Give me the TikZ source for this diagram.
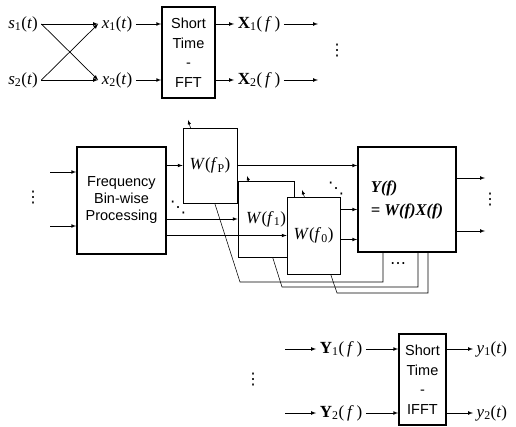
\documentclass[tikz,border=0pt]{standalone}
\usepackage{fontspec}
\setmainfont{Liberation Serif}
\newfontfamily\blockfont{Liberation Sans}
\newfontfamily\dotfont{DejaVu Sans}
\usepackage{tikz}
\usetikzlibrary{arrows, positioning, calc, backgrounds}
\newcommand{\tsig}[3]{\textit{#1}\textsubscript{#2}(\textit{#3})}
\newcommand{\fsig}[2]{\textbf{#1}\textsubscript{#2}(\,\textit{f}\,)}
\tikzstyle{block} = [rectangle, draw=black, line width=1.6pt, fill=white, text centered, align=center, inner sep=0pt, font=\blockfont\fontsize{14.5}{19.5}\selectfont]
\tikzstyle{filt} = [rectangle, draw=black, line width=0.7pt, fill=white, inner sep=0pt, font=\fontsize{17}{20}\selectfont]
\tikzstyle{sig} = [inner sep=3.5pt, font=\fontsize{17}{20}\selectfont]
\tikzstyle{dots} = [inner sep=0pt, font=\dotfont\fontsize{16}{18}\selectfont]
\tikzstyle{arrow} = [line width=0.7pt,->,>=latex]
\tikzstyle{adapt} = [line width=0.55pt,->,>=latex]

\begin{document}
\begin{tikzpicture}[x=1pt, y=1pt]
\useasboundingbox (0,0) rectangle (516,426);

% Mixing and STFT
\node (s1) [sig] at (23,402) {\tsig{s}{1}{t}};
\node (s2) [sig] at (23,346) {\tsig{s}{2}{t}};
\node (x1) [sig] at (117,402) {\tsig{x}{1}{t}};
\node (x2) [sig] at (117,346) {\tsig{x}{2}{t}};
\node (fft) [block, minimum width=53, minimum height=91] at (188.5,373.5) {Short\\Time\\-\\FFT};
\node (X1) [sig] at (259,402) {\fsig{X}{1}};
\node (X2) [sig] at (259,346) {\fsig{X}{2}};
\coordinate (X1out) at (318,402);
\coordinate (X2out) at (318,346);
\node (dtop) [dots] at (337,375) {⋮};

\draw [arrow] (s1.east) -- (x1.west);
\draw [arrow] (s1.east) -- (x2.west);
\draw [arrow] (s2.east) -- (x1.west);
\draw [arrow] (s2.east) -- (x2.west);
\draw [arrow] (x1.east) -- (x1.east -| fft.west);
\draw [arrow] (x2.east) -- (x2.east -| fft.west);
\draw [arrow] (fft.east |- X1.west) -- (X1.west);
\draw [arrow] (fft.east |- X2.west) -- (X2.west);
\draw [arrow] (X1.east) -- (X1out);
\draw [arrow] (X2.east) -- (X2out);

% Frequency bin-wise separation
\node (fbp) [block, minimum width=89, minimum height=107, font=\blockfont\fontsize{14.5}{17}\selectfont] at (121.5,225.5) {Frequency\\Bin-wise\\Processing};
\coordinate (in1) at (50,254);
\coordinate (in2) at (50,200);
\node (dleft) [dots] at (33,228) {⋮};

\node (wp) [filt, minimum width=54, minimum height=75] at (210,260.5) {\textit{W}(\textit{f}\textsubscript{P})};
\node (w1) [filt, minimum width=56, minimum height=76] at (266,207) {\textit{W}(\textit{f}\textsubscript{1})};
\node (w0) [filt, minimum width=53, minimum height=77] at (313.5,190.5) {\textit{W}(\textit{f}\textsubscript{0})};
\node (ybox) [block, minimum width=98, minimum height=105, align=left, font=\bfseries\itshape\fontsize{16.5}{23}\selectfont] at (407,226.5) {Y(f)\\= W(f)X(f)};

\node (dd1) [dots] at (178,218) {⋱};
\node (dd2) [dots] at (336,237) {⋱};
\node (dright) [dots] at (490,226) {⋮};
\node (dfb) [dots] at (398,160) {⋯};
\coordinate (yo1) at (485,248);
\coordinate (yo2) at (485,195);

\draw [arrow] (in1) -- (in1 -| fbp.west);
\draw [arrow] (in2) -- (in2 -| fbp.west);
\draw [arrow] (fbp.east |- wp.west) -- (wp.west);
\draw [arrow] (fbp.east |- w1.west) -- (w1.west);
\draw [arrow] (fbp.east |- w0.west) -- (w0.west);
\draw [arrow] (wp.east) -- (wp.east -| ybox.west);
\draw [arrow] ([yshift=26]w0.east) -- ([yshift=26]w0.east -| ybox.west);
\draw [arrow] ([yshift=-4]w0.east) -- ([yshift=-4]w0.east -| ybox.west);
\draw [arrow] (ybox.east |- yo1) -- (yo1);
\draw [arrow] (ybox.east |- yo2) -- (yo2);

% adaptation paths
\coordinate (bendP) at (240,144);
\coordinate (bend1) at (282,139);
\coordinate (bend0) at (337,133);
\coordinate (tipP) at (188,306);
\coordinate (tip1) at (247,250);
\coordinate (tip0) at (302,236);
\begin{scope}[on background layer]
\draw [adapt] ([xshift=-24]ybox.south) |- (bendP) -- (tipP);
\draw [adapt] ([xshift=11]ybox.south) |- (bend1) -- (tip1);
\draw [adapt] ([xshift=21]ybox.south) |- (bend0) -- (tip0);
\end{scope}

% inverse STFT
\node (Y1) [sig] at (341,77) {\fsig{Y}{1}};
\node (Y2) [sig] at (341,13) {\fsig{Y}{2}};
\coordinate (yin1) at (285,77);
\coordinate (yin2) at (285,13);
\node (dbot) [dots] at (253,46) {⋮};
\node (ifft) [block, minimum width=47, minimum height=91] at (422.5,46.5) {Short\\Time\\-\\IFFT};
\node (y1) [sig, anchor=west] at (473,77) {\tsig{y}{1}{t}};
\node (y2) [sig, anchor=west] at (473,13) {\tsig{y}{2}{t}};

\draw [arrow] (yin1) -- (Y1.west);
\draw [arrow] (yin2) -- (Y2.west);
\draw [arrow] (Y1.east) -- (Y1.east -| ifft.west);
\draw [arrow] (Y2.east) -- (Y2.east -| ifft.west);
\draw [arrow] (ifft.east |- y1.west) -- (y1.west);
\draw [arrow] (ifft.east |- y2.west) -- (y2.west);

\end{tikzpicture}
\end{document}
